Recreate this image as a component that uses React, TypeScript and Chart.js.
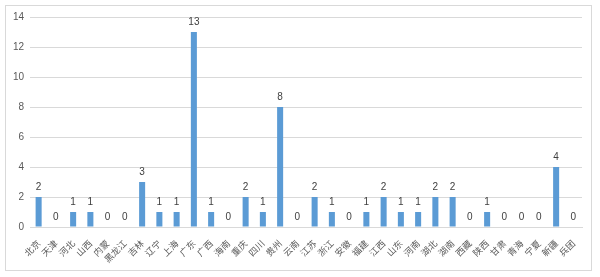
import React, { useEffect, useRef } from "react";
import { Chart, registerables } from "chart.js";

Chart.register(...registerables);

const categories = [
  "北京", "天津", "河北", "山西", "内蒙", "黑龙江", "吉林", "辽宁", "上海", "广东",
  "广西", "海南", "重庆", "四川", "贵州", "云南", "江苏", "浙江", "安徽", "福建",
  "江西", "山东", "河南", "湖北", "湖南", "西藏", "陕西", "甘肃", "青海", "宁夏",
  "新疆", "兵团",
];
const values = [
  2, 0, 1, 1, 0, 0, 3, 1, 1, 13,
  1, 0, 2, 1, 8, 0, 2, 1, 0, 1,
  2, 1, 1, 2, 2, 0, 1, 0, 0, 0,
  4, 0,
];
const yTicks = [0, 2, 4, 6, 8, 10, 12, 14];

const labelPlugin = {
  id: "barLabels",
  afterDatasetsDraw(chart: any) {
    const ctx = chart.ctx;
    const meta = chart.getDatasetMeta(0);
    ctx.save();
    ctx.fillStyle = "#404040";
    ctx.font = "10px 'Liberation Sans', Arial, sans-serif";
    ctx.textAlign = "center";
    ctx.textBaseline = "bottom";
    meta.data.forEach((bar: any, i: number) => {
      ctx.fillText(String(values[i]), bar.x, bar.y - 5);
    });
    ctx.restore();
  },
};

export default function App() {
  const ref = useRef<HTMLCanvasElement | null>(null);
  useEffect(() => {
    if (!ref.current) return;
    const chart = new Chart(ref.current, {
      type: "bar",
      data: {
        labels: categories,
        datasets: [
          {
            data: values,
            backgroundColor: "#5B9BD5",
            barPercentage: 0.7,
            categoryPercentage: 0.5,
          },
        ],
      },
      plugins: [labelPlugin],
      options: {
        animation: false,
        responsive: false,
        maintainAspectRatio: false,
        layout: { padding: { left: 5, right: 18, top: 17, bottom: 0 } },
        plugins: { legend: { display: false }, tooltip: { enabled: false } },
        scales: {
          x: {
            grid: { display: false },
            border: { display: true, color: "#d9d9d9" },
            ticks: {
              autoSkip: false,
              maxRotation: 45,
              minRotation: 45,
              color: "#595959",
              padding: 3,
              font: { size: 9, family: "'Noto Sans CJK SC', sans-serif" },
            },
            afterFit(scale: any) {
              scale.height = 50;
              scale.paddingLeft = 0;
              scale.paddingRight = 0;
            },
          },
          y: {
            min: 0,
            max: 14,
            afterBuildTicks(scale: any) {
              scale.ticks = yTicks.map((v) => ({ value: v }));
            },
            grid: { color: "#d9d9d9", drawTicks: false },
            border: { display: false },
            ticks: {
              color: "#595959",
              padding: 6,
              font: { size: 10, family: "'Liberation Sans', Arial, sans-serif" },
            },
            afterFit(scale: any) {
              scale.width = 25;
            },
          },
        },
      },
    });
    return () => chart.destroy();
  }, []);
  return (
    <div style={{ position: "fixed", left: 0, top: 0, width: 600, height: 277, background: "#fff" }}>
      <div
        style={{
          position: "absolute",
          left: 5,
          top: 5,
          width: 587,
          height: 266,
          border: "1px solid #d9d9d9",
          boxSizing: "border-box",
        }}
      />
      <canvas ref={ref} width={600} height={277} style={{ position: "absolute", left: 0, top: 0 }} />
    </div>
  );
}
